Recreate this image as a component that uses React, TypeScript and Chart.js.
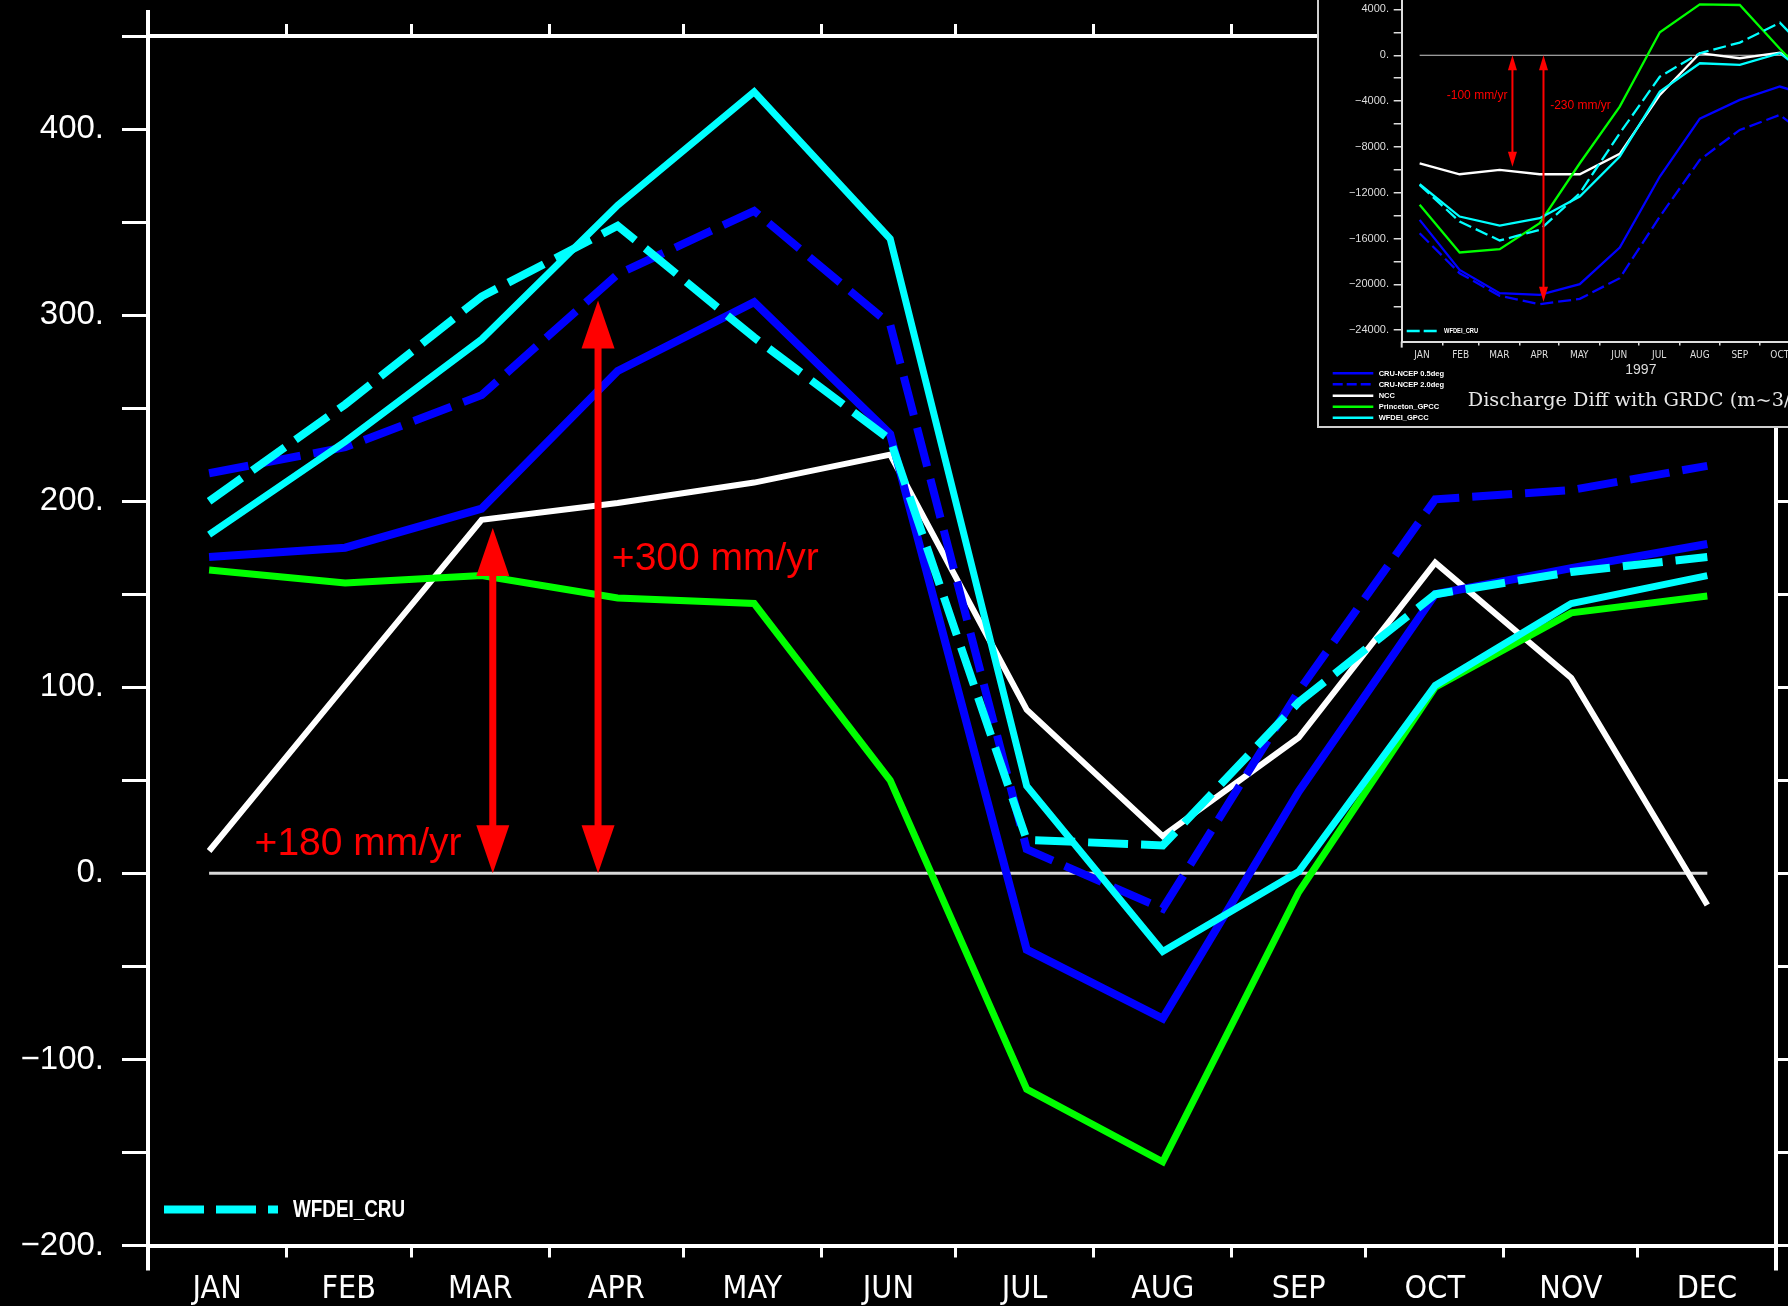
import { useEffect, useRef } from 'react';
import { Chart, registerables } from 'chart.js';

Chart.register(...registerables);

// ---------- categories / axes ----------
const MONTHS = ['JAN', 'FEB', 'MAR', 'APR', 'MAY', 'JUN', 'JUL', 'AUG', 'SEP', 'OCT', 'NOV', 'DEC'];
const MONTH_LABEL_DAYS = [15.5, 45, 74.5, 105, 135.5, 166, 196.5, 227.5, 258, 288.5, 319, 349.5];
const MONTH_BOUNDARY_DAYS = [31, 59, 90, 120, 151, 181, 212, 243, 273, 304, 334];
const POINT_DAYS = [13.7, 44.2, 74.8, 105.3, 135.9, 166.4, 197.0, 227.5, 258.0, 288.6, 319.1, 349.6];

// ---------- main chart series (mm/yr) ----------
const MAIN_CRU_NCEP_05 = [170, 175, 196, 270, 307, 236, -41, -78, 44, 150, 164, 177];
const MAIN_CRU_NCEP_20 = [215, 229, 257, 322, 356, 295, 13, -19, 98, 201, 206, 219];
const MAIN_NCC = [12, 101, 190, 199, 210, 225, 88, 20, 73, 167, 105, -17];
const MAIN_PRINCETON_GPCC = [163, 156, 160, 148, 145, 50, -116, -155, -10, 100, 140, 149];
const MAIN_WFDEI_GPCC = [182, 232, 287, 359, 420, 341, 47, -42, 1, 101, 145, 160];
const MAIN_WFDEI_CRU = [200, 252, 310, 348, 288, 233, 18, 15, 92, 150, 162, 170];

// main y ticks (every 50, labelled every 100)
const MAIN_Y_TICKS = [-200, -150, -100, -50, 0, 50, 100, 150, 200, 250, 300, 350, 400, 450];
const MAIN_Y_LABELLED = [-200, -100, 0, 100, 200, 300, 400];

// main annotations
const MAIN_ARROW_DAYS = [77.3, 100.9];
const MAIN_ARROW_TOPS = [185.6, 307.8];
const MAIN_ARROW_LABELS = ['+180 mm/yr', '+300 mm/yr'];
const MAIN_LABEL_DAYS = [23.9, 104];
const MAIN_LABEL_VALUES = [10, 163];

// ---------- inset series (m^3/s) ----------
const INSET_CRU_NCEP_05 = [-14370, -18740, -20770, -20920, -19990, -16790, -10590, -5530, -3900, -2730, -3800, -6000];
const INSET_CRU_NCEP_20 = [-15540, -19030, -21000, -21730, -21270, -19460, -14080, -9130, -6520, -5210, -7900, -11000];
const INSET_NCC = [-9430, -10390, -10010, -10390, -10390, -8610, -3460, 180, -260, 230, -1650, -4000];
const INSET_PRINCETON_GPCC = [-13060, -17220, -16930, -14660, -9430, -4480, 2010, 4450, 4390, 570, -3000, -7000];
const INSET_WFDEI_GPCC = [-11260, -14080, -14870, -14230, -12330, -8840, -3170, -700, -840, 180, -2500, -5000];
const INSET_WFDEI_CRU = [-11320, -14520, -16170, -15240, -12040, -6810, -1860, 180, 1110, 2850, -790, -4000];

// inset y ticks (every 2000, labelled every 4000)
const INSET_Y_TICKS = [-24000, -22000, -20000, -18000, -16000, -14000, -12000, -10000, -8000, -6000, -4000, -2000, 0, 2000, 4000];
const INSET_Y_LABELLED = [-24000, -20000, -16000, -12000, -8000, -4000, 0, 4000];

const INSET_ARROW_DAYS = [84.5, 108.2];
const INSET_ARROW_BOTTOMS = [-9730, -21520];
const INSET_ARROW_LABELS = ['-100 mm/yr', '-230 mm/yr'];
const INSET_LABEL_DAYS = [34.4, 113.3];
const INSET_LABEL_VALUES = [-3555, -4428];
const INSET_LEGEND_NAMES = ['CRU-NCEP 0.5deg', 'CRU-NCEP 2.0deg', 'NCC', 'Princeton_GPCC', 'WFDEI_GPCC'];
const INSET_TITLE = 'Discharge Diff with GRDC (m~3/s)';
const INSET_YEAR = '1997';

// ---------- styles ----------
const SANS = "'Liberation Sans', Arial, Helvetica, sans-serif";
const NARROW = "'Liberation Sans Narrow', 'Arial Narrow', 'DejaVu Sans Condensed', sans-serif";
const SERIF = "'DejaVu Serif', serif";
const BLUE = '#0000ff';
const CYAN = '#00ffff';
const GREEN = '#00ff00';
const WHITE = '#ffffff';
const RED = '#ff0000';

const MAIN_STYLES = [
  { label: 'WFDEI_CRU', values: MAIN_WFDEI_CRU, color: CYAN, width: 8, dash: [40, 13] },
  { label: 'WFDEI_GPCC', values: MAIN_WFDEI_GPCC, color: CYAN, width: 7, dash: [] },
  { label: 'CRU-NCEP 2.0deg', values: MAIN_CRU_NCEP_20, color: BLUE, width: 8, dash: [40, 13] },
  { label: 'CRU-NCEP 0.5deg', values: MAIN_CRU_NCEP_05, color: BLUE, width: 8, dash: [] },
  { label: 'Princeton_GPCC', values: MAIN_PRINCETON_GPCC, color: GREEN, width: 7, dash: [] },
  { label: 'NCC', values: MAIN_NCC, color: WHITE, width: 6, dash: [] },
];

const INSET_STYLES = [
  { label: 'WFDEI_CRU', values: INSET_WFDEI_CRU, color: CYAN, width: 2.3, dash: [13, 5] },
  { label: 'WFDEI_GPCC', values: INSET_WFDEI_GPCC, color: CYAN, width: 2.3, dash: [] },
  { label: 'CRU-NCEP 2.0deg', values: INSET_CRU_NCEP_20, color: BLUE, width: 2.3, dash: [13, 5] },
  { label: 'CRU-NCEP 0.5deg', values: INSET_CRU_NCEP_05, color: BLUE, width: 2.3, dash: [] },
  { label: 'Princeton_GPCC', values: INSET_PRINCETON_GPCC, color: GREEN, width: 2.3, dash: [] },
  { label: 'NCC', values: INSET_NCC, color: WHITE, width: 2.3, dash: [] },
];
const INSET_LEGEND_STYLES = [
  { color: BLUE, dash: [] as number[] },
  { color: BLUE, dash: [10, 4] },
  { color: WHITE, dash: [] as number[] },
  { color: GREEN, dash: [] as number[] },
  { color: CYAN, dash: [] as number[] },
];

// ---------- helpers ----------
function fmtY(v: number): string {
  const s = Math.abs(v).toString() + '.';
  return v < 0 ? '\u2212' + s : s;
}
function monthAxisTicks(scale: any) {
  const vals = [...MONTH_LABEL_DAYS, ...MONTH_BOUNDARY_DAYS].sort((a, b) => a - b);
  scale.ticks = vals.map((v) => ({ value: v }));
}
function boundaryTicks(scale: any) {
  scale.ticks = MONTH_BOUNDARY_DAYS.map((v) => ({ value: v }));
}
function fixedTicks(list: number[]) {
  return (scale: any) => {
    scale.ticks = list.map((v) => ({ value: v }));
  };
}
function labelledOnly(list: number[]) {
  return (v: any) => (list.indexOf(Number(v)) >= 0 ? fmtY(Number(v)) : '');
}
function monthLabel(value: any) {
  const i = MONTH_LABEL_DAYS.indexOf(Number(value));
  return i >= 0 ? MONTHS[i] : '';
}
function boundaryColor(color: string) {
  return (ctx: any) => (ctx.tick && MONTH_BOUNDARY_DAYS.indexOf(ctx.tick.value) >= 0 ? color : 'rgba(0,0,0,0)');
}
function fitBox(size: { width?: number; height?: number }) {
  return (s: any) => {
    if (size.width !== undefined) s.width = size.width;
    if (size.height !== undefined) s.height = size.height;
    s.paddingTop = 0;
    s.paddingBottom = 0;
    s.paddingLeft = 0;
    s.paddingRight = 0;
  };
}
function buildDatasets(styles: any[], zeroColor: string, zeroWidth: number) {
  const ds: any[] = styles.map((s, i) => ({
    label: s.label,
    data: s.values.map((v: number, k: number) => ({ x: POINT_DAYS[k], y: v })),
    borderColor: s.color,
    borderWidth: s.width,
    borderDash: s.dash,
    borderJoinStyle: 'miter',
    borderCapStyle: 'butt',
    pointRadius: 0,
    tension: 0,
    fill: false,
    order: i,
  }));
  ds.push({
    label: 'zero',
    data: [
      { x: POINT_DAYS[0], y: 0 },
      { x: POINT_DAYS[POINT_DAYS.length - 1], y: 0 },
    ],
    borderColor: zeroColor,
    borderWidth: zeroWidth,
    pointRadius: 0,
    tension: 0,
    fill: false,
    order: 99,
  });
  return ds;
}
function drawDoubleArrow(ctx: CanvasRenderingContext2D, x: number, yTop: number, yBot: number, shaft: number, headW: number, headL: number) {
  ctx.fillStyle = RED;
  ctx.fillRect(x - shaft / 2, yTop + headL - 1, shaft, yBot - yTop - 2 * headL + 2);
  ctx.beginPath();
  ctx.moveTo(x, yTop);
  ctx.lineTo(x - headW / 2, yTop + headL);
  ctx.lineTo(x + headW / 2, yTop + headL);
  ctx.closePath();
  ctx.fill();
  ctx.beginPath();
  ctx.moveTo(x, yBot);
  ctx.lineTo(x - headW / 2, yBot - headL);
  ctx.lineTo(x + headW / 2, yBot - headL);
  ctx.closePath();
  ctx.fill();
}
// condensed (Helvetica-Narrow-like) text: Liberation Sans squeezed horizontally
function narrowText(ctx: CanvasRenderingContext2D, text: string, x: number, y: number, font: string) {
  ctx.save();
  ctx.translate(x, y);
  ctx.scale(0.82, 1);
  ctx.font = font;
  ctx.textAlign = 'left';
  ctx.textBaseline = 'middle';
  ctx.fillText(text, 0, 0);
  ctx.restore();
}

// ---------- main chart plugin ----------
const mainDecor = {
  id: 'mainDecor',
  afterDatasetsDraw(chart: any) {
    const { ctx, scales } = chart;
    const x = scales.x;
    const y = scales.y;
    ctx.save();
    MAIN_ARROW_DAYS.forEach((d, i) => {
      drawDoubleArrow(ctx, x.getPixelForValue(d), y.getPixelForValue(MAIN_ARROW_TOPS[i]), y.getPixelForValue(0), 7, 33, 48);
    });
    ctx.fillStyle = RED;
    ctx.font = `39px ${SANS}`;
    ctx.textAlign = 'left';
    ctx.textBaseline = 'alphabetic';
    MAIN_ARROW_LABELS.forEach((t, i) => {
      ctx.fillText(t, x.getPixelForValue(MAIN_LABEL_DAYS[i]), y.getPixelForValue(MAIN_LABEL_VALUES[i]));
    });
    ctx.restore();
  },
  afterDraw(chart: any) {
    const { ctx, chartArea } = chart;
    const { left, right, top, bottom } = chartArea;
    ctx.save();
    // axis extensions
    ctx.strokeStyle = WHITE;
    ctx.lineWidth = 4;
    ctx.beginPath();
    ctx.moveTo(left, top - 26);
    ctx.lineTo(left, top);
    ctx.moveTo(left, bottom);
    ctx.lineTo(left, bottom + 25);
    ctx.moveTo(right, bottom);
    ctx.lineTo(right, bottom + 25);
    ctx.stroke();
    // in-plot legend
    const ly = bottom - 36;
    ctx.strokeStyle = CYAN;
    ctx.lineWidth = 8;
    ctx.setLineDash([40, 12]);
    ctx.beginPath();
    ctx.moveTo(left + 16, ly);
    ctx.lineTo(left + 130, ly);
    ctx.stroke();
    ctx.setLineDash([]);
    ctx.fillStyle = WHITE;
    narrowText(ctx, 'WFDEI_CRU', left + 145, ly + 1, `bold 23px ${SANS}`);
    ctx.restore();
  },
};

// ---------- inset chart plugin ----------
const insetDecor = {
  id: 'insetDecor',
  afterDatasetsDraw(chart: any) {
    const { ctx, scales } = chart;
    const x = scales.x;
    const y = scales.y;
    ctx.save();
    INSET_ARROW_DAYS.forEach((d, i) => {
      drawDoubleArrow(ctx, x.getPixelForValue(d), y.getPixelForValue(0), y.getPixelForValue(INSET_ARROW_BOTTOMS[i]), 2, 9, 15);
    });
    ctx.fillStyle = RED;
    ctx.font = `12px ${SANS}`;
    ctx.textAlign = 'left';
    ctx.textBaseline = 'middle';
    INSET_ARROW_LABELS.forEach((t, i) => {
      ctx.fillText(t, x.getPixelForValue(INSET_LABEL_DAYS[i]), y.getPixelForValue(INSET_LABEL_VALUES[i]));
    });
    ctx.restore();
  },
  afterDraw(chart: any) {
    const { ctx, chartArea } = chart;
    const { left, bottom } = chartArea;
    ctx.save();
    // y axis extension below x axis
    ctx.strokeStyle = '#dddddd';
    ctx.lineWidth = 2;
    ctx.beginPath();
    ctx.moveTo(left, bottom);
    ctx.lineTo(left, bottom + 6);
    ctx.stroke();
    // in-plot legend
    const ly = bottom - 10.6;
    ctx.strokeStyle = CYAN;
    ctx.lineWidth = 2.5;
    ctx.setLineDash([13, 4]);
    ctx.beginPath();
    ctx.moveTo(left + 5, ly);
    ctx.lineTo(left + 38.3, ly);
    ctx.stroke();
    ctx.setLineDash([]);
    ctx.fillStyle = WHITE;
    narrowText(ctx, 'WFDEI_CRU', left + 42.3, ly, `bold 7px ${SANS}`);
    // bottom legend
    const rowY = [375.3, 386.3, 397.7, 408.7, 419.7];
    INSET_LEGEND_NAMES.forEach((name, i) => {
      const st = INSET_LEGEND_STYLES[i];
      ctx.strokeStyle = st.color;
      ctx.lineWidth = 2.5;
      ctx.setLineDash(st.dash);
      ctx.beginPath();
      ctx.moveTo(13.7, rowY[i]);
      ctx.lineTo(54.3, rowY[i]);
      ctx.stroke();
      ctx.setLineDash([]);
      ctx.fillStyle = WHITE;
      ctx.font = `bold 7.5px ${SANS}`;
      ctx.textAlign = 'left';
      ctx.textBaseline = 'middle';
      ctx.fillText(name, 59.7, rowY[i] + 0.5);
    });
    // title
    ctx.fillStyle = '#e6e6e6';
    ctx.font = `19.3px ${SERIF}`;
    ctx.textAlign = 'left';
    ctx.textBaseline = 'alphabetic';
    ctx.fillText(INSET_TITLE, 148.7, 408);
    ctx.restore();
  },
};

function mainConfig(): any {
  return {
    type: 'line',
    data: { datasets: buildDatasets(MAIN_STYLES, '#d9d9d9', 3) },
    options: {
      responsive: false,
      maintainAspectRatio: false,
      animation: false,
      devicePixelRatio: 1,
      layout: { padding: 0 },
      plugins: { legend: { display: false }, tooltip: { enabled: false }, title: { display: false } },
      scales: {
        x: {
          type: 'linear',
          position: 'bottom',
          min: 0,
          max: 365,
          afterBuildTicks: monthAxisTicks,
          afterFit: fitBox({ height: 60.5 }),
          grid: { drawOnChartArea: false, drawTicks: true, tickLength: 12, lineWidth: 3, color: boundaryColor(WHITE) },
          border: { display: true, color: WHITE, width: 4 },
          ticks: {
            autoSkip: false,
            maxRotation: 0,
            minRotation: 0,
            color: WHITE,
            padding: 13,
            font: { family: NARROW, size: 32 },
            callback: monthLabel,
          },
        },
        xTop: {
          axis: 'x',
          type: 'linear',
          position: 'top',
          min: 0,
          max: 365,
          afterBuildTicks: boundaryTicks,
          afterFit: fitBox({ height: 36 }),
          grid: { drawOnChartArea: false, drawTicks: true, tickLength: 12, lineWidth: 3, color: WHITE },
          border: { display: true, color: WHITE, width: 4 },
          ticks: { display: false },
        },
        y: {
          type: 'linear',
          position: 'left',
          min: -200,
          max: 450,
          afterBuildTicks: fixedTicks(MAIN_Y_TICKS),
          afterFit: fitBox({ width: 148 }),
          grid: { drawOnChartArea: false, drawTicks: true, tickLength: 26, lineWidth: 3, color: WHITE },
          border: { display: true, color: WHITE, width: 4 },
          ticks: {
            autoSkip: false,
            color: WHITE,
            padding: 18,
            font: { family: SANS, size: 33 },
            callback: labelledOnly(MAIN_Y_LABELLED),
          },
        },
        yRight: {
          axis: 'y',
          type: 'linear',
          position: 'right',
          min: -200,
          max: 450,
          afterBuildTicks: fixedTicks(MAIN_Y_TICKS),
          afterFit: fitBox({ width: 12 }),
          grid: { drawOnChartArea: false, drawTicks: true, tickLength: 12, lineWidth: 3, color: WHITE },
          border: { display: true, color: WHITE, width: 4 },
          ticks: { display: false },
        },
      },
    },
    plugins: [mainDecor],
  };
}

function insetConfig(): any {
  return {
    type: 'line',
    data: { datasets: buildDatasets(INSET_STYLES, '#cccccc', 1.2) },
    options: {
      responsive: false,
      maintainAspectRatio: false,
      animation: false,
      devicePixelRatio: 1,
      layout: { padding: { left: 0, top: 0, bottom: 0, right: 39 } },
      plugins: { legend: { display: false }, tooltip: { enabled: false }, title: { display: false } },
      scales: {
        x: {
          type: 'linear',
          position: 'bottom',
          min: 0,
          max: 365,
          afterBuildTicks: monthAxisTicks,
          afterFit: fitBox({ height: 86.4 }),
          grid: { drawOnChartArea: false, drawTicks: true, tickLength: 4, lineWidth: 1.5, color: boundaryColor('#dddddd') },
          border: { display: true, color: '#dddddd', width: 2 },
          ticks: {
            autoSkip: false,
            maxRotation: 0,
            minRotation: 0,
            color: '#dddddd',
            padding: 3.7,
            font: { family: NARROW, size: 10 },
            callback: monthLabel,
          },
          title: {
            display: true,
            text: INSET_YEAR,
            color: '#dddddd',
            font: { family: SANS, size: 14 },
            padding: { top: 0, bottom: 49.6 },
          },
        },
        y: {
          type: 'linear',
          position: 'left',
          min: -25000,
          max: 5000,
          afterBuildTicks: fixedTicks(INSET_Y_TICKS),
          afterFit: fitBox({ width: 82.7 }),
          grid: { drawOnChartArea: false, drawTicks: true, tickLength: 8, lineWidth: 1.5, color: '#dddddd' },
          border: { display: true, color: '#dddddd', width: 2 },
          ticks: {
            autoSkip: false,
            color: '#dddddd',
            padding: 4.7,
            font: { family: SANS, size: 11 },
            callback: labelledOnly(INSET_Y_LABELLED),
          },
        },
      },
    },
    plugins: [insetDecor],
  };
}

export default function App() {
  const mainRef = useRef<HTMLCanvasElement>(null);
  const insetRef = useRef<HTMLCanvasElement>(null);

  useEffect(() => {
    document.body.style.margin = '0';
    document.body.style.background = '#000';
    const main = new Chart(mainRef.current as HTMLCanvasElement, mainConfig());
    const inset = new Chart(insetRef.current as HTMLCanvasElement, insetConfig());
    return () => {
      main.destroy();
      inset.destroy();
    };
  }, []);

  return (
    <div style={{ position: 'fixed', left: 0, top: 0, width: 1788, height: 1306, background: '#000', overflow: 'hidden' }}>
      <canvas ref={mainRef} width={1788} height={1306} style={{ position: 'absolute', left: 0, top: 0 }} />
      <div
        style={{
          position: 'absolute',
          left: 1317,
          top: 0,
          width: 471,
          height: 428,
          background: '#000',
          borderLeft: '2px solid #cfcfcf',
          borderBottom: '2px solid #cfcfcf',
          boxSizing: 'border-box',
          overflow: 'hidden',
        }}
      >
        <canvas ref={insetRef} width={600} height={430} style={{ position: 'absolute', left: 0, top: -2 }} />
      </div>
    </div>
  );
}
